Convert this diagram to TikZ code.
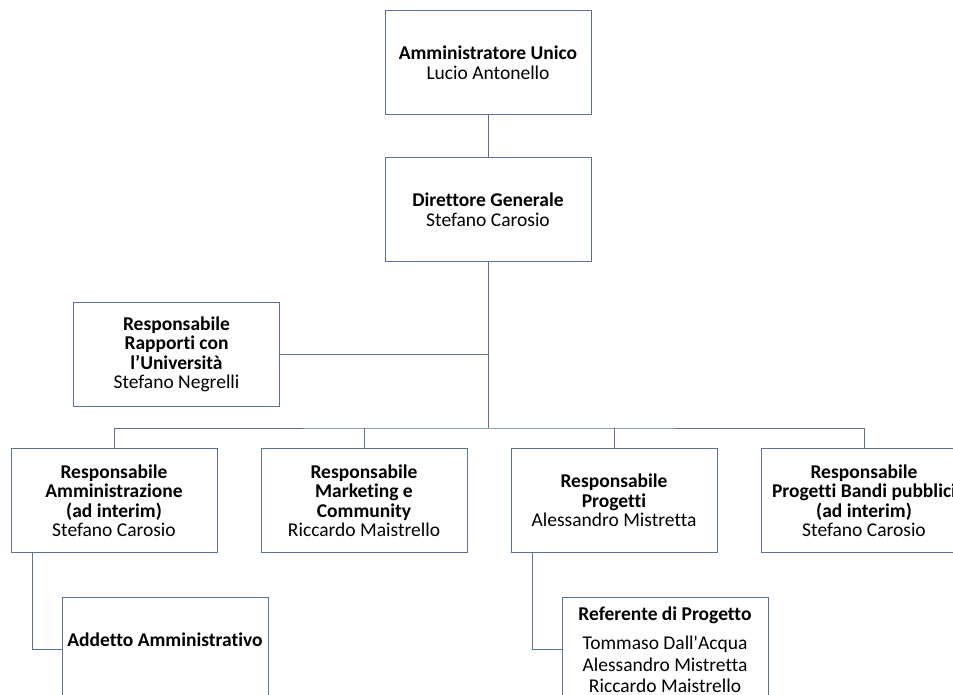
\documentclass[tikz,border=0pt]{standalone}
\usepackage{fontspec}
\setmainfont{Carlito}[Ligatures={TeX,NoCommon}]
\usepackage{xcolor}
\usetikzlibrary{positioning}
\definecolor{linegray}{HTML}{5B7393}

\begin{document}
\begin{tikzpicture}
		[x=1pt,y=-1pt,
		box/.style={rectangle,draw=linegray,fill=white,line width=1pt,align=center,inner sep=2pt, minimum width=206pt, minimum height=104pt, font=\fontsize{19.5}{19.5}\selectfont},
		link/.style={draw=linegray,line width=1pt}]
		\useasboundingbox (0,0) rectangle (953,695);
		\clip (0,0) rectangle (953,695);

		\node [box] (au) at (488,62.5) {\textbf{Amministratore Unico}\\Lucio Antonello};
		\node [box] (dg) [below=42pt of au] {\textbf{Direttore Generale}\\Stefano Carosio};
		\node [box] (rapp) at (176.5,354.5) {\textbf{Responsabile}\\\textbf{Rapporti con}\\\textbf{l’Università}\\Stefano Negrelli};

		\node [box] (amm) at (114,500.5) {\textbf{Responsabile}\\\textbf{Amministrazione}\\\textbf{(ad interim)}\\Stefano Carosio};
		\node [box] (mkt) [right=43pt of amm] {\textbf{Responsabile}\\\textbf{Marketing e}\\\textbf{Community}\\Riccardo Maistrello};
		\node [box] (prog) [right=43pt of mkt] {\textbf{Responsabile}\\\textbf{Progetti}\\Alessandro Mistretta};
		\node [box] (bandi) [right=43pt of prog] {\textbf{Responsabile}\\\textbf{Progetti Bandi pubblici}\\\textbf{(ad interim)}\\Stefano Carosio};

		\node [box] (add) [below=44pt of amm, xshift=51pt] {\textbf{Addetto Amministrativo}\\[0pt]\mbox{}};
		\node [box] (ref) [below=44pt of prog, xshift=51pt] {\textbf{Referente di Progetto}\\[10pt]Tommaso Dall\textquotesingle Acqua\\[2pt]Alessandro Mistretta\\[2pt]Riccardo Maistrello};

		\coordinate (bus) at (dg.south |- 0,428);

		\draw [link] (au) -- (dg);
		\draw [link] (dg) -- (bus);
		\draw [link] (rapp.east) -- (rapp.east -| bus);
		\draw [link] (amm.north) |- (bus) -| (bandi.north);
		\draw [link] (mkt.north) -- (mkt.north |- bus);
		\draw [link] (prog.north) -- (prog.north |- bus);
		\draw [link] ([xshift=22pt]amm.south west) |- (add.west);
		\draw [link] ([xshift=22pt]prog.south west) |- (ref.west);

	\end{tikzpicture}
\end{document}
